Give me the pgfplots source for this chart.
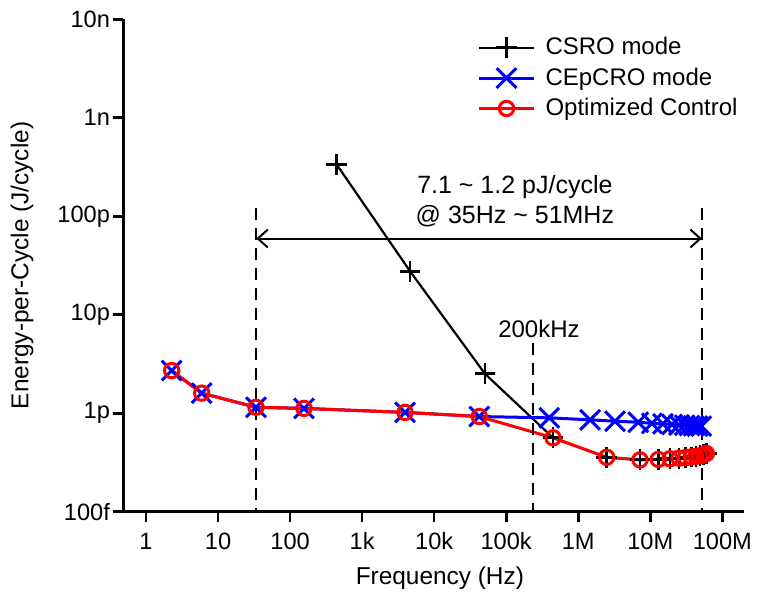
\documentclass[border=0pt]{standalone}
\usepackage{fontspec}
\setmainfont{Liberation Sans}
\usepackage{pgfplots}
\pgfplotsset{compat=1.18}
\usetikzlibrary{arrows.meta}

\pgfplotstableread{
f E
444 3.35e-10
4620 2.77e-11
50800 2.51e-12
447000 5.63e-13
2.48e6 3.57e-13
7.2e6 3.36e-13
12.9e6 3.40e-13
18.8e6 3.45e-13
25e6 3.50e-13
31e6 3.55e-13
37e6 3.60e-13
43e6 3.65e-13
49e6 3.70e-13
55e6 3.80e-13
60e6 3.90e-13
}\csro

\pgfplotstableread{
f E
2.27 2.71e-12
5.93 1.60e-12
33.6 1.15e-12
156 1.12e-12
3940 1.02e-12
42300 9.26e-13
396000 8.98e-13
1.46e6 8.57e-13
3.24e6 8.30e-13
6.8e6 8.10e-13
10.5e6 7.90e-13
15e6 7.80e-13
20e6 7.70e-13
25e6 7.60e-13
30e6 7.55e-13
35e6 7.50e-13
40e6 7.45e-13
45e6 7.40e-13
51e6 7.40e-13
}\cepcro

\pgfplotstableread{
f E
2.27 2.71e-12
5.93 1.60e-12
33.6 1.15e-12
156 1.12e-12
3940 1.02e-12
42300 9.26e-13
447000 5.63e-13
2.48e6 3.57e-13
7.2e6 3.36e-13
12.9e6 3.40e-13
18.8e6 3.45e-13
25e6 3.50e-13
31e6 3.55e-13
37e6 3.60e-13
43e6 3.65e-13
49e6 3.70e-13
55e6 3.80e-13
60e6 3.90e-13
}\optim

\begin{document}
\begin{tikzpicture}
\useasboundingbox (0,0) rectangle (381.5pt,297pt);
\begin{axis}[
  scale only axis,
  width=310.35pt, height=246.2pt,
  at={(61.65pt,41.15pt)}, anchor=south west,
  xmode=log, ymode=log,
  xmin=0.484, xmax=2e8,
  ymin=1e-13, ymax=1e-8,
  axis lines=left,
  axis line style={-, line width=1.3pt},
  every outer x axis line/.append style={-},
  every outer y axis line/.append style={-},
  tick align=outside,
  major tick length=5pt,
  tick style={line width=1.3pt, black},
  xminorticks=false, yminorticks=false,
  xtick={1,10,100,1000,1e4,1e5,1e6,1e7,1e8},
  xticklabels={1,10,100,1k,10k,100k,1M,10M,100M},
  ytick={1e-13,1e-12,1e-11,1e-10,1e-9,1e-8},
  yticklabels={100f,1p,10p,100p,1n,10n},
  tick label style={font=\fontsize{11.8}{14}\selectfont},
  xticklabel style={yshift=-2pt},
  yticklabel style={inner xsep=1.5pt},
  xlabel={Frequency (Hz)},
  ylabel={Energy-per-Cycle (J/cycle)},
  label style={font=\fontsize{12.2}{14.6}\selectfont},
  xlabel style={at={(axis description cs:0.51,-0.1347)}, anchor=center},
  ylabel style={at={(axis description cs:-0.163,0.5)}, anchor=center, rotate=0},
  clip=false,
  legend style={at={(axis description cs:0.570,0.972)}, anchor=north west,
    draw=none, fill=none, font=\fontsize{12}{14.4}\selectfont,
    row sep=1pt, inner sep=0pt,
    /tikz/every odd column/.append style={column sep=3pt}},
  legend cell align=left,
  legend image code/.code={\draw[mark repeat=2,mark phase=2] plot coordinates {(0pt,0pt) (13.75pt,0pt) (27.5pt,0pt)};},
]
\addplot[black, line width=1.1pt, mark=+, mark size=5.2pt, mark options={line width=1.4pt}] table[x=f,y=E] {\csro};
\addlegendentry{CSRO mode}
\addplot[blue, line width=1.5pt, mark=x, mark size=7pt, mark options={line width=1.5pt}] table[x=f,y=E] {\cepcro};
\addlegendentry{CEpCRO mode}
\addplot[red, line width=1.5pt, mark=o, mark size=3.6pt, mark options={line width=1.5pt}] table[x=f,y=E] {\optim};
\addlegendentry{Optimized Control}

\addplot[black, line width=1.1pt, dash pattern=on 6pt off 4pt, forget plot] coordinates {(34,1.2e-10) (34,1e-13)};
\addplot[black, line width=1.1pt, dash pattern=on 6pt off 4pt, forget plot] coordinates {(2.35e5,5.22e-12) (2.35e5,1e-13)};
\addplot[black, line width=1.1pt, dash pattern=on 6pt off 4pt, forget plot] coordinates {(5.2e7,1.2e-10) (5.2e7,1e-13)};
\addplot[black, line width=1pt, {Straight Barb[length=5pt,width=9pt]}-{Straight Barb[length=5pt,width=9pt]}, forget plot] coordinates {(34,5.94e-11) (5.2e7,5.94e-11)};

\node[font=\fontsize{12.5}{15}\selectfont] at (axis cs:1.32e5,1.96e-10) {7.1 \textasciitilde{} 1.2 pJ/cycle};
\node[font=\fontsize{12.5}{15}\selectfont] at (axis cs:1.32e5,1.01e-10) {@ 35Hz \textasciitilde{} 51MHz};
\node[font=\fontsize{12}{14.4}\selectfont] at (axis cs:2.85e5,7.24e-12) {200kHz};
\end{axis}
\end{tikzpicture}
\end{document}
